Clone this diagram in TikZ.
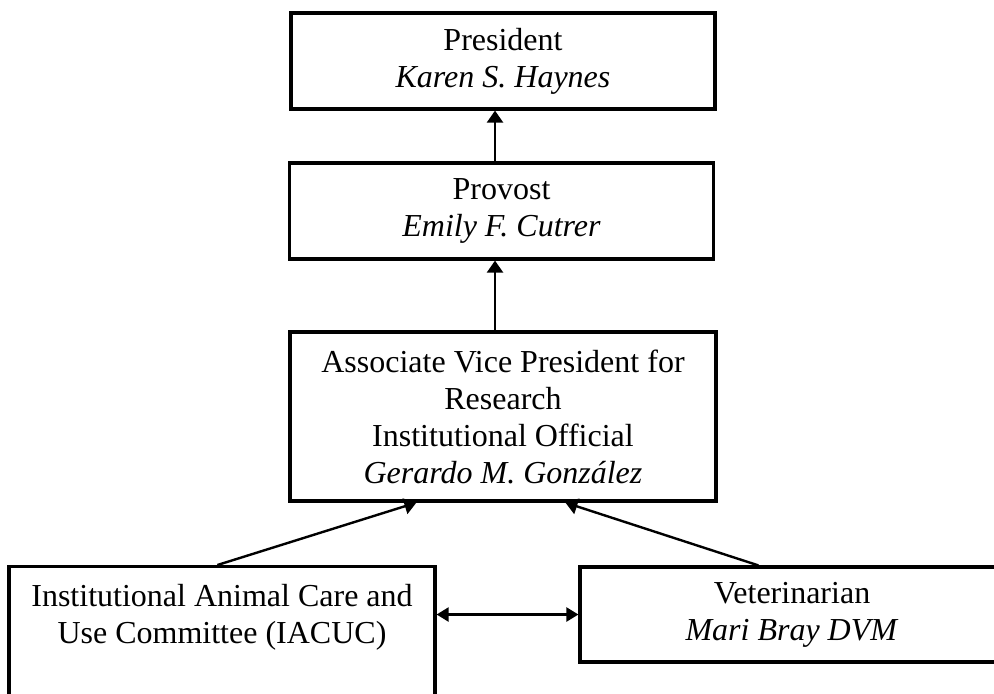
\documentclass[tikz,border=0pt]{standalone}
\usepackage{fontspec}
\setmainfont{Liberation Serif}
\usepackage{tikz}
\usetikzlibrary{arrows.meta}

\begin{document}
\begin{tikzpicture}[x=0.5pt, y=-0.5pt]
			\tikzstyle{Office}	= [draw, line width=1.6pt, align=center, inner sep=0pt, font=\fontsize{16pt}{18.5pt}\selectfont]
			\tikzstyle{Wide}	= [minimum width=212pt, minimum height=48pt]
			\tikzstyle{Report}	= [line width=1.2pt, -{Triangle[length=6pt, width=8pt]}]
			\tikzstyle{Link}	= [line width=1.2pt, {Triangle[length=6pt, width=7pt]}-{Triangle[length=6pt, width=7pt]}]
			
			\useasboundingbox (0, 0) rectangle (994, 693);
			
			\node (pres) at (503, 61) [Office][Wide] {President\\ \textit{Karen S. Haynes}};
			\node (prov) at (501.5, 211) [Office][Wide] {Provost\\ \textit{Emily F. Cutrer}};
			\node (avp) at (503, 416.5) [Office, minimum width=213pt, minimum height=84.5pt] {Associate Vice President for\\ Research\\ Institutional Official\\ \textit{Gerardo M. González}};
			\node (iacuc) at (222, 565) [Office, anchor=north, minimum width=213pt, inner ysep=9pt] {Institutional Animal Care and\\ Use Committee (IACUC)\\ \strut\\ \strut};
			\node (vet) at (792, 614.5) [Office][Wide, minimum height=47.5pt] {Veterinarian\\ \textit{Mari Bray DVM}};
			\coordinate (spine) at (495, 0);
			
			\draw [Report] (spine |- prov.north) -- (spine |- pres.south);
			\draw [Report] (spine |- avp.north) -- (spine |- prov.south);
			\draw [Report] ([xshift=105pt]iacuc.north west) -- ([xshift=64pt]avp.south west);
			\draw [Report] ([xshift=90pt]vet.north west) -- ([xshift=138.5pt]avp.south west);
			
			\draw [Link] (iacuc.east |- vet.center) -- (vet.west);
		\end{tikzpicture}
\end{document}
